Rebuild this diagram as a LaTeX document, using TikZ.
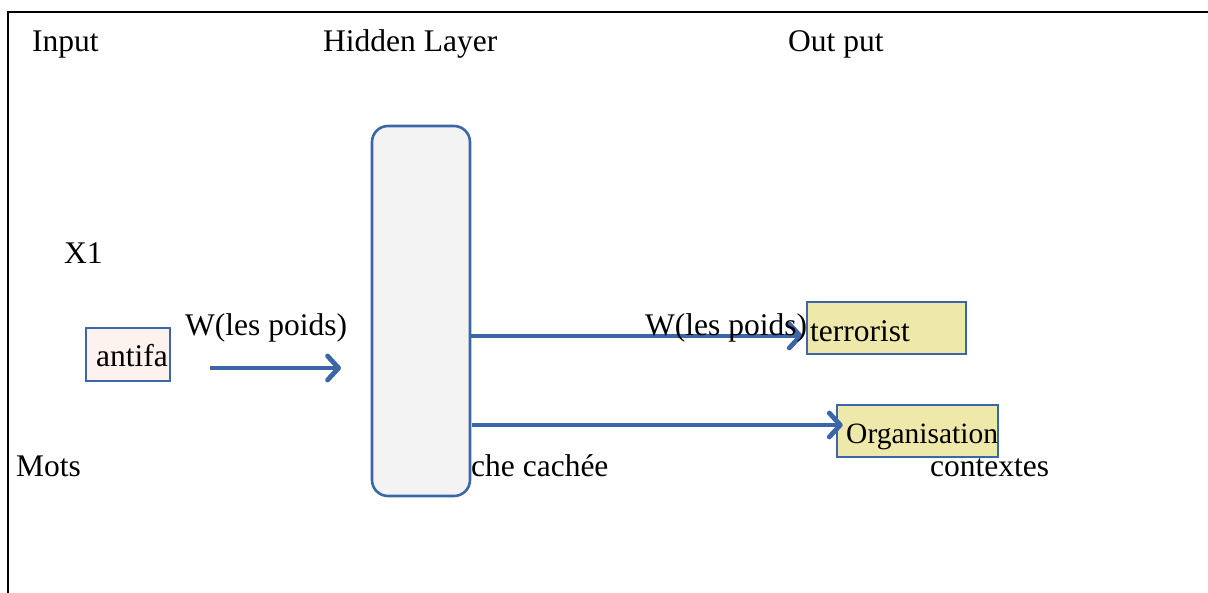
\documentclass[tikz,border=0pt]{standalone}
\usepackage{fontspec}
\setmainfont{Liberation Serif}
\usetikzlibrary{arrows.meta}
\definecolor{edgeblue}{RGB}{59,103,168}
\definecolor{wordfill}{RGB}{253,242,237}
\definecolor{hiddenfill}{RGB}{243,243,243}
\definecolor{ctxfill}{RGB}{238,232,170}
\tikzset{
  lbl/.style={anchor=base west, inner sep=0pt, font=\fontsize{31.5}{36}\selectfont},
  smalllbl/.style={lbl, font=\fontsize{29.5}{34}\selectfont},
  wordbox/.style={draw=edgeblue, line width=2.6pt, fill=wordfill, inner sep=0pt},
  ctxbox/.style={draw=edgeblue, line width=2.6pt, fill=ctxfill, inner sep=0pt},
  hiddenbox/.style={draw=edgeblue, line width=2.6pt, fill=hiddenfill, rounded corners=16pt, inner sep=0pt},
  link/.style={draw=edgeblue, line width=3.2pt, -{Straight Barb[length=11pt, width=24pt, line width=0pt 1.5, round]}}
}
\begin{document}
\begin{tikzpicture}[x=1pt, y=-1pt]
  \useasboundingbox (0,0) rectangle (1208,592);
  % outer frame (only top and left edges fall inside the page)
  \coordinate (ftr) at (1210,12);
  \coordinate (ftl) at (8,12);
  \coordinate (fbl) at (8,594);
  \draw[line width=1.5pt] (ftr) -- (ftl) -- (fbl);

  % column headings
  \node[lbl] (hin)  at (32,51)  {Input};
  \node[lbl] (hhid) at (323,51) {Hidden Layer};
  \node[lbl] (hout) at (788,51) {Out put};

  % input side
  \node[lbl] (x1) at (64,263) {X1};
  \node[wordbox, minimum width=84pt, minimum height=53pt] (word) at (128,354.5) {};
  \node[lbl] at (96,366) {antifa};
  \node[lbl] (w1) at (185,335) {W(les poids)};
  \coordinate (a1s) at (210,368);
  \coordinate (a1e) at (341,368);
  \draw[link] (a1s) -- (a1e);
  \node[lbl] (mots) at (16,476) {Mots};

  % hidden layer
  \node[hiddenbox, minimum width=98pt, minimum height=370pt] (hid) at (421,311) {};
  \node[lbl] (hcap) at (471,476) {che cachée};

  % output side
  \node[ctxbox, minimum width=159pt, minimum height=52pt] (ctx1) at (886.5,328) {};
  \node[lbl] at (810,341) {terrorist};
  \node[ctxbox, minimum width=161pt, minimum height=52pt] (ctx2) at (917.5,431) {};
  \node[smalllbl] at (846,443) {Organisation};
  \node[lbl] (ctxlbl) at (930,476) {contextes};

  \draw[link] (hid.east |- 0,336) -- ([xshift=-3pt]ctx1.west |- 0,336);
  \draw[link] ([xshift=1pt]hid.east |- 0,425) -- ([xshift=7pt]ctx2.west |- 0,425);
  \node[lbl] (w2) at (645,335) {W(les poids)};
\end{tikzpicture}
\end{document}
